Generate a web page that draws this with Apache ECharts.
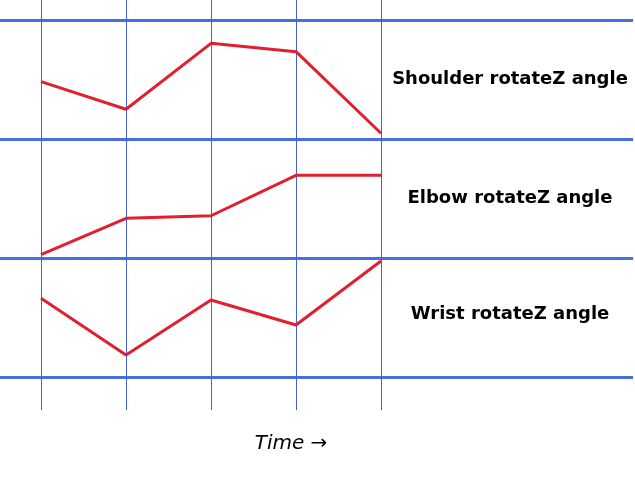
<!DOCTYPE html>
<html>
<head>
<meta charset="utf-8">
<script src="https://cdn.jsdelivr.net/npm/echarts@6/dist/echarts.min.js"></script>
<style>
html,body{margin:0;padding:0;background:#fff;}
#main{width:635px;height:482px;}
</style>
</head>
<body>
<div id="main"></div>
<script>
// Time steps (keyframes)
var timeSteps = ['t0', 't1', 't2', 't3', 't4'];
// Joint angles (normalized, 0-100 within each band)
var shoulderAngle = [48.2, 25.0, 80.4, 73.4, 4.8];
var elbowAngle = [2.8, 33.4, 35.5, 69.5, 69.5];
var wristAngle = [66.1, 18.5, 64.7, 43.7, 97.5];
var panelLabels = ['Shoulder rotateZ angle', 'Elbow rotateZ angle', 'Wrist rotateZ angle'];
var axisTitle = 'Time \u2192';

var panelSeries = [shoulderAngle, elbowAngle, wristAngle];
var blue = '#4a6ee0';
var thinBlue = '#4162dc';
var red = '#e0202e';

var bandTop = 20, bandH = 119, plotLeft = 41, plotW = 340;

var grids = [
  {left: plotLeft, top: 0, width: plotW, height: 410},
  {left: 0, top: bandTop, width: 633, height: bandH * 3}
];
var xAxes = [
  {gridIndex: 0, type: 'value', min: 0, max: timeSteps.length - 1, interval: 1,
   axisLine: {show: false}, axisTick: {show: false}, axisLabel: {show: false},
   splitLine: {show: true, lineStyle: {color: thinBlue, width: 1}}},
  {gridIndex: 1, type: 'value', min: 0, max: 1, show: false}
];
var yAxes = [
  {gridIndex: 0, type: 'value', min: 0, max: 1, show: false},
  {gridIndex: 1, type: 'value', min: 0, max: 3, interval: 1,
   axisLine: {show: false}, axisTick: {show: false}, axisLabel: {show: false},
   splitLine: {show: true, lineStyle: {color: blue, width: 3}}}
];
var series = [];
panelSeries.forEach(function (vals, i) {
  var gi = grids.length;
  grids.push({left: plotLeft, top: bandTop + bandH * i, width: plotW, height: bandH});
  xAxes.push({gridIndex: gi, type: 'category', data: timeSteps, boundaryGap: false, show: false});
  yAxes.push({gridIndex: gi, type: 'value', min: 0, max: 100, show: false});
  series.push({
    type: 'line', xAxisIndex: gi, yAxisIndex: gi, data: vals,
    symbol: 'none', z: 5,
    lineStyle: {color: red, width: 3},
    animation: false
  });
});

var labelY = [79, 198, 314];
var graphics = panelLabels.map(function (t, i) {
  return {
    type: 'text', x: 510, y: labelY[i],
    style: {text: t, fill: '#000', font: 'bold 18px "DejaVu Sans"',
            textAlign: 'center', textVerticalAlign: 'middle'}
  };
});
graphics.push({
  type: 'text', x: 291, y: 444,
  style: {text: axisTitle, fill: '#000', font: 'italic 20px "DejaVu Sans"',
          textAlign: 'center', textVerticalAlign: 'middle'}
});

var chart = echarts.init(document.getElementById('main'), null, {renderer: 'canvas'});
chart.setOption({
  backgroundColor: '#fff',
  animation: false,
  grid: grids,
  xAxis: xAxes,
  yAxis: yAxes,
  series: series,
  graphic: graphics
});
</script>
</body>
</html>
